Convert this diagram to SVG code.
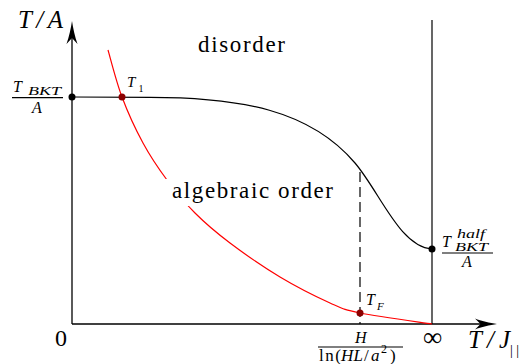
<svg xmlns="http://www.w3.org/2000/svg" width="528" height="364" viewBox="0 0 528 364">
<style>
text{font-family:'Liberation Serif',serif;fill:#000}
.it{font-style:italic}
.ax{stroke:#000;stroke-width:1.3;fill:none}
.bk{stroke:#000;stroke-width:1.2;fill:none}
.rd{stroke:#ff0000;stroke-width:1.2;fill:none}
.bar{stroke:#000;stroke-width:1.2}
.dotb{fill:#000}
.dotr{fill:#8b0000}
</style>
<rect width="528" height="364" fill="#fff"/>
<g id="connectors">
<line class="ax" x1="72" y1="324" x2="72" y2="36"/>
<path d="M72,21 C73,28 75,37 77.5,44 L72,38 L66.5,44 C69,37 71,28 72,21 Z" fill="#000"/>
<line class="ax" x1="72" y1="324" x2="483" y2="324"/>
<path d="M497,324 C490,325 481,327 475,329.5 L480.5,324 L475,318.5 C481,321 490,323 497,324 Z" fill="#000"/>
<line class="bk" x1="432" y1="20" x2="432" y2="324"/>
<path class="bk" d="M72,97 L150,97.3 C240,97.3 310,110 355,163 C380,192.4 400,247 432,249"/>
<line class="bk" x1="360" y1="172" x2="360" y2="324" stroke-dasharray="10 5"/>
<path class="rd" d="M108,50 C110.3,57.8 116.2,81.5 122,97 C127.8,112.5 135.5,129.2 143,143 C150.5,156.8 158.3,168.3 167,180 C175.7,191.7 184.5,202.5 195,213 C205.5,223.5 215.8,232.3 230,243 C244.2,253.7 263.3,267 280,277 C296.7,287 316.7,297 330,303 C343.3,309 343,309.5 360,313 C377,316.5 420,322.2 432,324"/>
</g>
<g id="region-disorder">
<text x="198" y="52" font-size="23" textLength="87">disorder</text>
</g>
<g id="region-algebraic">
<rect x="165" y="179" width="174" height="27" fill="#fff"/>
<text x="172" y="198" font-size="23" textLength="161">algebraic order</text>
</g>
<g id="axis-y-label">
<text class="it" x="18" y="28" font-size="25" textLength="45">T/A</text>
</g>
<g id="axis-x-label">
<text class="it" x="468" y="348" font-size="25" textLength="42">T/J</text>
<text x="510" y="355" font-size="14" textLength="9">||</text>
</g>
<g id="origin">
<text x="55" y="346" font-size="24">0</text>
</g>
<g id="infinity">
<text x="432.5" y="346" font-size="27" text-anchor="middle">∞</text>
</g>
<g id="tbkt-left">
<circle class="dotb" cx="72" cy="97" r="3.5"/>
<text class="it" x="13" y="92" font-size="16">T</text>
<text class="it" x="28" y="95" font-size="12.5" textLength="33" lengthAdjust="spacingAndGlyphs">BKT</text>
<line class="bar" x1="12" y1="97.7" x2="63" y2="97.7"/>
<text class="it" x="32" y="113" font-size="16">A</text>
</g>
<g id="t1">
<circle class="dotr" cx="122" cy="97" r="3.5"/>
<text class="it" x="127" y="87" font-size="15">T</text>
<text x="138.5" y="92" font-size="10">1</text>
</g>
<g id="tbkt-half">
<circle class="dotb" cx="432" cy="249" r="3.5"/>
<text class="it" x="442" y="247" font-size="16">T</text>
<text class="it" x="457" y="238" font-size="13" textLength="28" lengthAdjust="spacingAndGlyphs">half</text>
<text class="it" x="455" y="251" font-size="12.5" textLength="33" lengthAdjust="spacingAndGlyphs">BKT</text>
<line class="bar" x1="442" y1="253" x2="493" y2="253"/>
<text class="it" x="462" y="267" font-size="16">A</text>
</g>
<g id="tf">
<circle class="dotr" cx="360" cy="313" r="3.5"/>
<text class="it" x="366" y="305" font-size="16">T</text>
<text class="it" x="377" y="310" font-size="11">F</text>
</g>
<g id="h-tick">
<text class="it" x="355" y="343" font-size="16">H</text>
<line class="bar" x1="318" y1="347" x2="403" y2="347"/>
<text x="319" y="361" font-size="17" textLength="22">ln(</text>
<text class="it" x="341" y="361" font-size="17" textLength="22">HL</text>
<text x="364" y="361" font-size="17">/</text>
<text class="it" x="371" y="361" font-size="17">a</text>
<text x="381" y="353" font-size="12">2</text>
<text x="390" y="361" font-size="17" textLength="6">)</text>
</g>
</svg>
